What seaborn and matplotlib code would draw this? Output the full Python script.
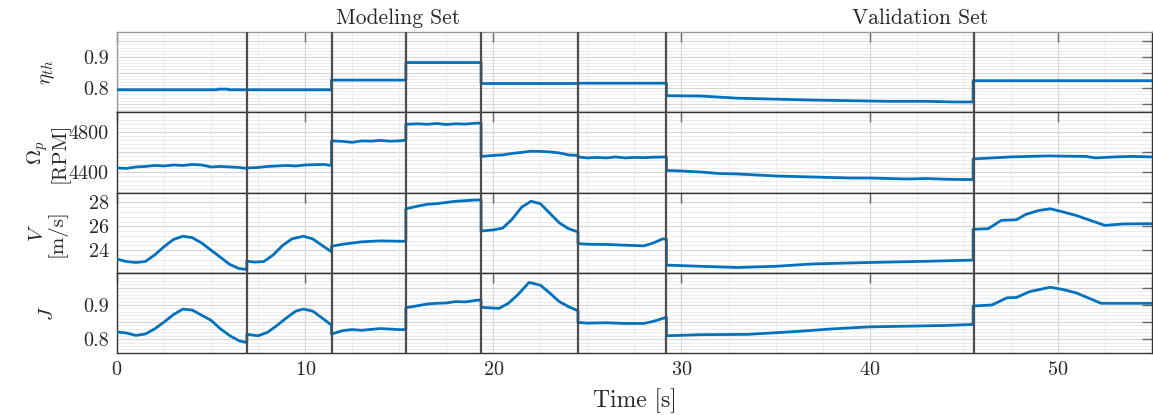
import matplotlib
matplotlib.use("Agg")
import matplotlib.pyplot as plt
import matplotlib.ticker as mticker
import matplotlib.transforms as mtrans
import numpy as np
import pandas as pd
import seaborn as sns

# data (time in s)
t_eta = [0, 5.3, 5.35, 5.9, 5.95, 6.9, 6.9, 11.4, 11.4, 15.35, 15.35, 19.35, 19.35, 24.5, 24.5, 29.2,
         29.2, 31, 33, 35, 37, 39, 41, 43, 44.5, 45.5, 45.5, 55]
eta = [0.795, 0.795, 0.797, 0.797, 0.795, 0.795, 0.795, 0.795, 0.826, 0.826, 0.882, 0.882, 0.815, 0.815,
       0.816, 0.816, 0.776, 0.775, 0.768, 0.765, 0.762, 0.760, 0.758, 0.758, 0.756, 0.756, 0.824, 0.824]

t_omega = [0, 0.5, 1, 1.5, 2, 2.5, 3, 3.5, 4, 4.5, 5, 5.5, 6, 6.5, 6.9,
           6.9, 7.5, 8, 8.5, 9, 9.5, 10, 10.5, 11, 11.4,
           11.4, 12, 12.5, 13, 13.5, 14, 14.5, 15, 15.35,
           15.35, 16, 16.5, 17, 17.5, 18, 18.5, 19, 19.35,
           19.35, 20, 20.5, 21, 21.5, 22, 22.5, 23, 23.5, 24, 24.5,
           24.5, 25, 25.5, 26, 26.5, 27, 27.5, 28, 28.5, 29.2,
           29.2, 30, 31, 32, 33, 34, 35, 36, 37, 38, 39, 40, 41, 42, 43, 44, 45, 45.5,
           45.5, 46.5, 47.5, 48.5, 49.5, 50.5, 51.5, 52, 53, 54, 55]
omega = [4445, 4440, 4455, 4460, 4470, 4465, 4475, 4470, 4480, 4475, 4455, 4460, 4455, 4450, 4440,
         4445, 4450, 4460, 4465, 4470, 4465, 4475, 4478, 4480, 4470,
         4715, 4710, 4700, 4715, 4712, 4720, 4712, 4715, 4722,
         4880, 4885, 4880, 4888, 4878, 4885, 4882, 4890, 4893,
         4560, 4570, 4575, 4590, 4600, 4612, 4610, 4605, 4595, 4575, 4570,
         4555, 4545, 4550, 4545, 4555, 4545, 4550, 4548, 4552, 4555,
         4420, 4415, 4405, 4390, 4385, 4375, 4365, 4360, 4355, 4350, 4345, 4345, 4340, 4335, 4340, 4333, 4330, 4330,
         4535, 4545, 4555, 4560, 4565, 4562, 4560, 4545, 4555, 4560, 4555]

t_v = [0, 0.5, 1, 1.5, 2, 2.5, 3, 3.5, 4, 4.5, 5, 5.5, 6, 6.5, 6.9,
       6.9, 7.3, 7.8, 8.3, 8.8, 9.3, 9.9, 10.4, 10.9, 11.4,
       11.4, 12, 13, 14, 15, 15.35,
       15.35, 16, 16.5, 17, 17.5, 18, 18.5, 19, 19.35,
       19.35, 20, 20.5, 21, 21.5, 22, 22.5, 23, 23.5, 24, 24.5,
       24.5, 25, 26, 27, 28, 28.5, 29, 29.2,
       29.2, 31, 33, 35, 37, 40, 43, 45.5,
       45.5, 46.3, 47, 47.8, 48.3, 49, 49.6, 50.3, 51, 52.5, 53.5, 55]
v = [23.25, 23.05, 22.97, 23.05, 23.6, 24.3, 24.9, 25.17, 25.05, 24.6, 24.0, 23.4, 22.8, 22.45, 22.39,
     23.08, 23.0, 23.05, 23.6, 24.4, 24.95, 25.17, 24.95, 24.4, 23.86,
     24.33, 24.5, 24.7, 24.78, 24.75, 24.75,
     27.47, 27.7, 27.85, 27.9, 28.0, 28.1, 28.15, 28.2, 28.22,
     25.61, 25.7, 25.85, 26.6, 27.6, 28.1, 27.9, 27.1, 26.3, 25.8, 25.53,
     24.55, 24.5, 24.48, 24.42, 24.36, 24.6, 24.95, 24.92,
     22.75, 22.65, 22.55, 22.65, 22.85, 22.97, 23.07, 23.17,
     25.75, 25.8, 26.5, 26.55, 27.0, 27.33, 27.47, 27.2, 26.9, 26.08, 26.2, 26.22]

t_j = [0, 0.5, 1, 1.5, 2, 2.5, 3, 3.5, 4, 4.5, 5, 5.5, 6, 6.5, 6.9,
       6.9, 7.5, 8, 8.5, 9, 9.5, 9.9, 10.4, 10.9, 11.4,
       11.4, 12, 12.5, 13, 14, 15, 15.35,
       15.35, 16, 16.5, 17, 17.5, 18, 18.5, 19, 19.35,
       19.35, 20.3, 20.8, 21.3, 21.9, 22.5, 23, 23.5, 24, 24.5,
       24.5, 25, 26, 27, 28, 28.5, 29.2,
       29.2, 31, 33.5, 36, 38, 40, 42, 44, 45.5,
       45.5, 46.5, 47.3, 47.8, 48.5, 49.6, 50.3, 51, 52.3, 53, 55]
j = [0.821, 0.818, 0.811, 0.815, 0.83, 0.85, 0.872, 0.888, 0.885, 0.87, 0.855, 0.83, 0.81, 0.795, 0.79,
     0.814, 0.81, 0.82, 0.84, 0.862, 0.882, 0.888, 0.882, 0.862, 0.841,
     0.815, 0.825, 0.828, 0.826, 0.831, 0.828, 0.828,
     0.892, 0.898, 0.903, 0.905, 0.906, 0.91, 0.909, 0.913, 0.915,
     0.893, 0.89, 0.905, 0.93, 0.966, 0.958, 0.935, 0.91, 0.895, 0.883,
     0.849, 0.847, 0.848, 0.846, 0.846, 0.852, 0.864,
     0.81, 0.813, 0.814, 0.822, 0.83, 0.836, 0.838, 0.84, 0.843,
     0.897, 0.9, 0.921, 0.922, 0.939, 0.952, 0.945, 0.935, 0.905, 0.905, 0.905]

splits = [6.9, 11.4, 15.35, 19.35, 24.5, 29.2, 45.55]
set_titles = ["Modeling Set", "Validation Set"]
set_centers = [14.96, 42.7]

sns.set_style("white")
plt.rcParams["font.family"] = "cmr10"
plt.rcParams["mathtext.fontset"] = "cm"
plt.rcParams["axes.formatter.use_mathtext"] = True
plt.rcParams["axes.unicode_minus"] = False

blue = "#0072BD"
fig, axes = plt.subplots(4, 1, figsize=(11.53, 4.15), dpi=100, sharex=True)
fig.subplots_adjust(left=0.1015, right=0.999, top=0.923, bottom=0.149, hspace=0)

panels = [
    (t_eta, eta, r"$\eta_{th}$", (0.723, 0.98), [0.75, 0.8, 0.85, 0.9, 0.95], [0.8, 0.9], 0.01),
    (t_omega, omega, "$\\Omega_p$\n[RPM]", (4200, 5000), [4400, 4600, 4800], [4400, 4800], 40),
    (t_v, v, "$V$\n[m/s]", (22.1, 28.83), [24, 26, 28], [24, 26, 28], 0.4),
    (t_j, j, r"$J$", (0.759, 0.994), [0.8, 0.85, 0.9, 0.95], [0.8, 0.9], 0.01),
]

for ax, (tt, yy, lab, lim, ticks, shown, minor) in zip(axes, panels):
    df = pd.DataFrame({"t": tt, "y": yy})
    sns.lineplot(data=df, x="t", y="y", ax=ax, sort=False, estimator=None,
                 color=blue, linewidth=2, zorder=3)
    for s in splits:
        ax.axvline(s, color="#4d4d4d", linewidth=1.6, zorder=4)
    ax.set_xlim(0, 55)
    ax.set_ylim(*lim)
    ax.yaxis.set_major_locator(mticker.FixedLocator(ticks))
    ax.yaxis.set_major_formatter(mticker.FuncFormatter(
        lambda val, pos, shown=shown: (f"{val:g}" if any(abs(val - s) < 1e-9 for s in shown) else "")))
    ax.yaxis.set_minor_locator(mticker.MultipleLocator(minor))
    ax.xaxis.set_major_locator(mticker.MultipleLocator(10))
    ax.xaxis.set_minor_locator(mticker.MultipleLocator(2.5))
    ax.grid(True, which="major", color="#d6d6d6", linewidth=0.8)
    ax.grid(True, which="minor", color="#ececec", linewidth=0.7)
    ax.tick_params(which="major", direction="in", length=7, width=1.0, color="#666666",
                   top=True, right=True, labelsize=14.5, pad=6)
    ax.tick_params(which="minor", length=0)
    # keep x ticks drawn above the dense horizontal grid
    ax.yaxis.set_zorder(0.4)
    ax.xaxis.set_zorder(0.6)
    ax.set_ylabel(lab, fontsize=15, va="center", linespacing=1.0)
    ax.yaxis.set_label_coords(-0.067, 0.5)
    ax.set_xlabel("")
    for side in ["top", "bottom", "left", "right"]:
        ax.spines[side].set_color("#333333")
        ax.spines[side].set_linewidth(1.0)

axes[0].spines["top"].set_color("#999999")
axes[0].spines["left"].set_color("#999999")

trans = mtrans.blended_transform_factory(axes[0].transData, axes[0].transAxes)
for name, xc in zip(set_titles, set_centers):
    axes[0].text(xc, 1.17, name, transform=trans, ha="center", va="center", fontsize=15.5)

axes[-1].set_xlabel("Time [s]", fontsize=17, labelpad=6)

fig.savefig("out.png", dpi=100)
